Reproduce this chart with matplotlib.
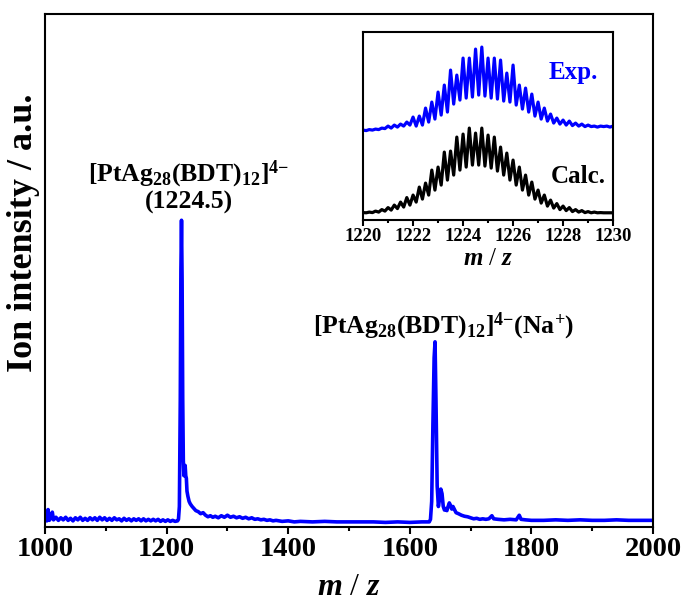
import matplotlib
matplotlib.use("Agg")
import matplotlib.pyplot as plt
from matplotlib.ticker import MultipleLocator
import numpy as np

plt.rcParams['font.family'] = ['Liberation Serif', 'DejaVu Serif']
plt.rcParams['font.weight'] = 'bold'
plt.rcParams['mathtext.fontset'] = 'custom'
plt.rcParams['mathtext.rm'] = 'Liberation Serif:bold'
plt.rcParams['mathtext.bf'] = 'Liberation Serif:bold'
plt.rcParams['mathtext.it'] = 'Liberation Serif:bold:italic'
plt.rcParams['mathtext.default'] = 'bf'

BLUE = '#0000ff'

# ---- full ESI-MS spectrum (m/z, relative intensity) ----
mz_main = [
    1000, 1003, 1005, 1007, 1010, 1012, 1014, 1018, 1022, 1026, 1030, 1034, 1038, 1042,
    1046, 1050, 1054, 1058, 1062, 1066, 1070, 1074, 1078, 1082, 1086, 1090, 1094, 1098,
    1102, 1106, 1110, 1114, 1118, 1122, 1126, 1130, 1134, 1138, 1142, 1146, 1150, 1154,
    1158, 1162, 1166, 1170, 1174, 1178, 1182, 1186, 1190, 1194, 1198, 1202, 1206, 1210,
    1214, 1218,
    1219.5, 1221, 1222.5, 1223.5, 1224.5, 1225.5, 1226.5, 1227.5, 1228.5, 1229.5, 1230.5,
    1231.5, 1232.5, 1233.5, 1235, 1237, 1239, 1242, 1245, 1248, 1252, 1256, 1260, 1264,
    1268, 1272, 1276, 1280, 1285, 1290, 1295, 1300, 1305, 1310, 1315, 1320, 1325, 1330,
    1335, 1340, 1345, 1350, 1355, 1360, 1365, 1370, 1375, 1380, 1390, 1400, 1410, 1420,
    1440, 1460, 1480, 1500, 1520, 1540, 1560, 1580, 1600, 1620, 1632,
    1634, 1636, 1638, 1640, 1641.5, 1643, 1645, 1647, 1649, 1651, 1653, 1655, 1657, 1659,
    1661, 1663, 1665, 1667, 1669, 1671, 1673, 1676, 1680, 1685, 1690, 1695, 1700, 1705,
    1710, 1715, 1720, 1725, 1730, 1735, 1738, 1745, 1755, 1765, 1775, 1780, 1783, 1790,
    1800, 1820, 1840, 1860, 1880, 1900, 1920, 1940, 1960, 1980, 2000,
]
int_main = [
    1.6, 1.2, 3.4, 1.3, 1.8, 2.9, 1.4, 1.9, 1.3, 1.8, 1.4, 1.9, 1.3, 1.7,
    1.2, 1.8, 1.4, 1.9, 1.3, 1.7, 1.3, 1.8, 1.4, 1.8, 1.3, 1.9, 1.4, 1.8,
    1.3, 1.7, 1.3, 1.8, 1.4, 1.6, 1.2, 1.7, 1.3, 1.6, 1.2, 1.6, 1.3, 1.6,
    1.2, 1.6, 1.2, 1.5, 1.2, 1.5, 1.2, 1.5, 1.1, 1.4, 1.1, 1.4, 1.1, 1.3,
    1.1, 1.2,
    1.5, 4.0, 25.0, 50.0, 59.8, 48.0, 25.0, 13.0, 10.0, 11.0, 12.0,
    10.0, 9.5, 7.0, 6.0, 5.0, 4.5, 4.0, 3.6, 3.2, 3.0, 2.6, 2.8, 2.3,
    2.0, 2.2, 1.9, 2.1, 1.8, 2.2, 1.9, 2.3, 1.9, 2.1, 1.8, 2.0, 1.7, 1.9,
    1.6, 1.8, 1.5, 1.6, 1.4, 1.5, 1.3, 1.4, 1.2, 1.3, 1.1, 1.2, 1.0, 1.1,
    1.0, 1.1, 1.0, 1.0, 1.0, 1.0, 0.9, 1.0, 0.9, 1.0, 1.0,
    1.5, 5.0, 20.0, 33.0, 36.1, 25.0, 8.0, 4.0, 5.5, 7.4, 6.5, 4.0, 3.3, 3.6,
    3.2, 4.0, 4.7, 4.2, 3.5, 4.0, 3.5, 2.8, 2.6, 2.3, 2.1, 2.0, 1.8, 1.6,
    1.7, 1.5, 1.6, 1.5, 1.6, 2.2, 1.6, 1.5, 1.4, 1.5, 1.4, 2.3, 1.5, 1.4,
    1.3, 1.3, 1.4, 1.3, 1.4, 1.3, 1.3, 1.4, 1.3, 1.3, 1.3,
]

# ---- isotope pattern around m/z 1224.5 (4- ion, 0.25 spacing) ----
iso_mz = [
    1220.00, 1220.25, 1220.50, 1220.75, 1221.00, 1221.25, 1221.50, 1221.75,
    1222.00, 1222.25, 1222.50, 1222.75, 1223.00, 1223.25, 1223.50, 1223.75,
    1224.00, 1224.25, 1224.50, 1224.75, 1225.00, 1225.25, 1225.50, 1225.75,
    1226.00, 1226.25, 1226.50, 1226.75, 1227.00, 1227.25, 1227.50, 1227.75,
    1228.00, 1228.25, 1228.50, 1228.75, 1229.00, 1229.25, 1229.50, 1229.75,
    1230.00,
]
exp_peaks = [
    90, 90.5, 91, 92, 94, 95, 96, 98,
    103, 104, 112, 118, 128, 135, 150, 145,
    162, 162, 171, 173, 162, 162, 160, 147,
    155, 135, 132, 126, 118, 112, 106, 102,
    100, 99, 97, 96, 95, 94, 94, 94,
    94,
]
exp_valleys = [
    89.5, 90, 90.5, 91.5, 92, 93, 94, 95,
    94, 95, 98, 101, 105, 108, 116, 120,
    122, 123, 125, 124, 122, 121, 119, 118,
    115, 111, 108, 104, 101, 99, 97, 96,
    95, 94.5, 94, 93.5, 93.5, 93, 93.5, 93,
]
calc_peaks = [
    7.5, 8, 9, 10.5, 12.5, 15, 18, 22.5,
    25, 33, 37, 50, 53, 68, 69, 83,
    86, 92, 87, 92, 85, 83, 73, 67,
    60, 53, 45, 38, 30, 25, 20, 16.5,
    14, 12.5, 10.5, 9.5, 8.5, 8, 7.5, 7.3,
    7.3,
]
calc_valleys = [
    7.3, 7.5, 8, 9, 10, 11.5, 13, 15,
    18, 21, 25, 30, 35, 40, 45, 50,
    53, 55, 55, 54, 52, 49, 45, 40,
    35, 30, 25, 21, 17, 14, 12, 10.5,
    9.5, 8.5, 8, 7.5, 7.3, 7.3, 7.3, 7.3,
]


def trace(centers, peaks, valleys):
    """Alternate isotope maxima with the minima between neighbouring peaks."""
    centers = np.asarray(centers, float)
    mids = (centers[:-1] + centers[1:]) / 2
    x = np.empty(len(centers) + len(mids))
    y = np.empty_like(x)
    x[0::2], x[1::2] = centers, mids
    y[0::2], y[1::2] = peaks, valleys
    return x, y


fig = plt.figure(figsize=(6.85, 6.03), dpi=100)
ax = fig.add_axes([0.0657, 0.126, 0.8876, 0.8507])
ax.plot(mz_main, int_main, color=BLUE, lw=2.6, solid_joinstyle='round')
ax.set_xlim(1000, 2000)
ax.set_ylim(0, 100)
ax.xaxis.set_major_locator(MultipleLocator(200))
ax.xaxis.set_minor_locator(MultipleLocator(100))
ax.set_yticks([])
ax.tick_params(axis='x', which='major', direction='out', length=5, width=1.5,
               labelsize=20.5, pad=2)
ax.tick_params(axis='x', which='minor', direction='out', length=3, width=1.5)
for s in ax.spines.values():
    s.set_linewidth(1.5)
for lab in ax.get_xticklabels():
    lab.set_fontweight('bold')
ax.set_xlabel(r'$\mathit{m}$ / $\mathit{z}$', fontsize=23, labelpad=8)
ax.set_ylabel('Ion intensity / a.u.', fontsize=26, fontweight='bold')
ax.yaxis.set_label_coords(-0.008, 0.573)

ax.text(1236.8, 67.3, r'$[PtAg_{28}(BDT)_{12}]^{4{-}}$', fontsize=18.5,
        ha='center', va='baseline')
ax.text(1236.8, 62.0, '(1224.5)', fontsize=18.5, fontweight='bold',
        ha='center', va='baseline')
ax.text(1655.4, 37.8, r'$[PtAg_{28}(BDT)_{12}]^{4{-}}(Na^{+})$', fontsize=18.5,
        ha='center', va='baseline')

# ---- inset: experimental vs calculated isotope distribution ----
ins = fig.add_axes([0.530, 0.635, 0.365, 0.3118])
xe, ye = trace(iso_mz, exp_peaks, exp_valleys)
xc, yc = trace(iso_mz, calc_peaks, calc_valleys)
ins.plot(xe, ye, color=BLUE, lw=2.3, solid_joinstyle='round')
ins.plot(xc, yc, color='black', lw=2.3, solid_joinstyle='round')
ins.set_xlim(1220, 1230)
ins.set_ylim(0, 188)
ins.xaxis.set_major_locator(MultipleLocator(2))
ins.xaxis.set_minor_locator(MultipleLocator(1))
ins.set_yticks([])
ins.tick_params(axis='x', which='major', direction='out', length=4, width=1.5,
                labelsize=13.5, pad=2)
ins.tick_params(axis='x', which='minor', direction='out', length=2.5, width=1.5)
for s in ins.spines.values():
    s.set_linewidth(1.5)
for lab in ins.get_xticklabels():
    lab.set_fontweight('bold')
ins.set_xlabel(r'$\mathit{m}$ / $\mathit{z}$', fontsize=18, labelpad=2)
ins.text(1228.4, 148, 'Exp.', color=BLUE, fontsize=18, fontweight='bold',
         ha='center', va='center')
ins.text(1228.6, 44, 'Calc.', color='black', fontsize=18, fontweight='bold',
         ha='center', va='center')

fig.savefig('out.png', dpi=100)
